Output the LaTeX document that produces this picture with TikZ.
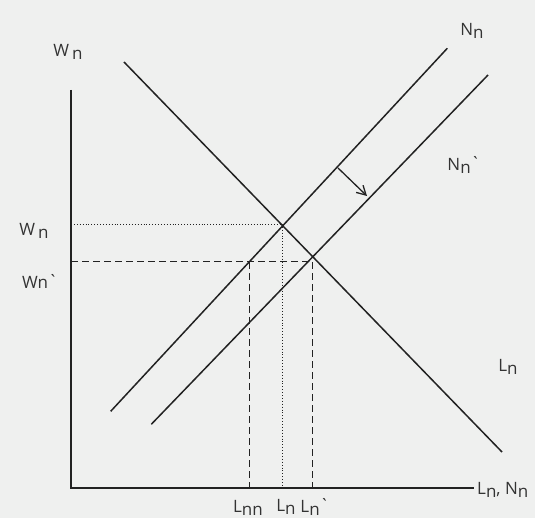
\documentclass[tikz,border=0pt]{standalone}
\usepackage{fontspec}
\setmainfont{Open Sans}[Ligatures=TeXOff]
\usetikzlibrary{arrows.meta}
\definecolor{bgc}{HTML}{EFF0EF}
\definecolor{ink}{HTML}{222222}
\definecolor{txt}{HTML}{333333}
\newcommand{\sbn}{\raisebox{-2.5pt}{n}}
\newcommand{\grv}{\raisebox{1pt}{\symbol{"60}}}
\begin{document}
\begin{tikzpicture}[x=1pt,y=-1pt,
  curve/.style={draw=ink,line width=1.5pt},
  axis/.style={draw=ink,line width=2pt},
  dotl/.style={draw=ink,line width=0.9pt,dotted},
  dashl/.style={draw=ink,line width=1pt,dash pattern=on 7pt off 4pt},
  lab/.style={text=txt,font=\fontsize{17}{19}\selectfont,inner sep=0pt}]
\fill[bgc] (0,0) rectangle (535,518);
\useasboundingbox (0,0) rectangle (535,518);
% axes
\coordinate (ytop) at (71,90);
\coordinate (o) at (71,488);
\coordinate (xend) at (474,488);
\draw[axis] (ytop) -- (o) -- (xend);
% demand
\coordinate (d1) at (124,62);
\coordinate (d2) at (502,452);
\draw[curve] (d1) -- (d2);
% supply N_n
\coordinate (s1) at (110.7,411.3);
\coordinate (s2) at (447.3,48.3);
\draw[curve] (s1) -- (s2);
% supply N_n'
\coordinate (t1) at (151.3,424.3);
\coordinate (t2) at (488,75);
\draw[curve] (t1) -- (t2);
% equilibria
\coordinate (e1) at (intersection of d1--d2 and s1--s2);
\coordinate (e2) at (intersection of d1--d2 and t1--t2);
\coordinate (w1) at (71,224);
\coordinate (w2) at (71,262);
\coordinate (c1) at (e1 |- w1);
\coordinate (c2) at (e2 |- w2);
\coordinate (wx1) at (e1 |- o);
\coordinate (wx2) at (e2 |- o);
\coordinate (f) at (intersection of s1--s2 and w2--c2);
\coordinate (fx) at (f |- o);
\draw[dotl] (w1) -- (c1) -- (wx1);
\draw[dashl] (w2) -- (c2) -- (wx2);
\draw[dashl] (f) -- (fx);
% shift arrow
\coordinate (a1) at (338,168);
\coordinate (a2) at (367,196);
\draw[ink,line width=1.3pt,-{Straight Barb[length=9pt,width=10pt]}] (a1) -- (a2);
% labels
\node[lab] (lw) at (68,52) {W\,\sbn};
\node[lab] (lw1) at (34,231) {W\,\sbn};
\node[lab] (lw2) at (40,281) {Wn\grv};
\node[lab] (lnn) at (472,31) {N\sbn};
\node[lab] (lnn2) at (464,165) {N\sbn\grv};
\node[lab] (lln) at (508,367) {L\sbn};
\node[lab,anchor=west] (lax) at (477,490) {L\sbn, N\sbn};
\node[lab] (lx1) at (248,508) {L\sbn\sbn};
\node[lab] (lx2) at (286,507) {L\sbn};
\node[lab] (lx3) at (315,507) {L\sbn\grv};
\end{tikzpicture}
\end{document}
